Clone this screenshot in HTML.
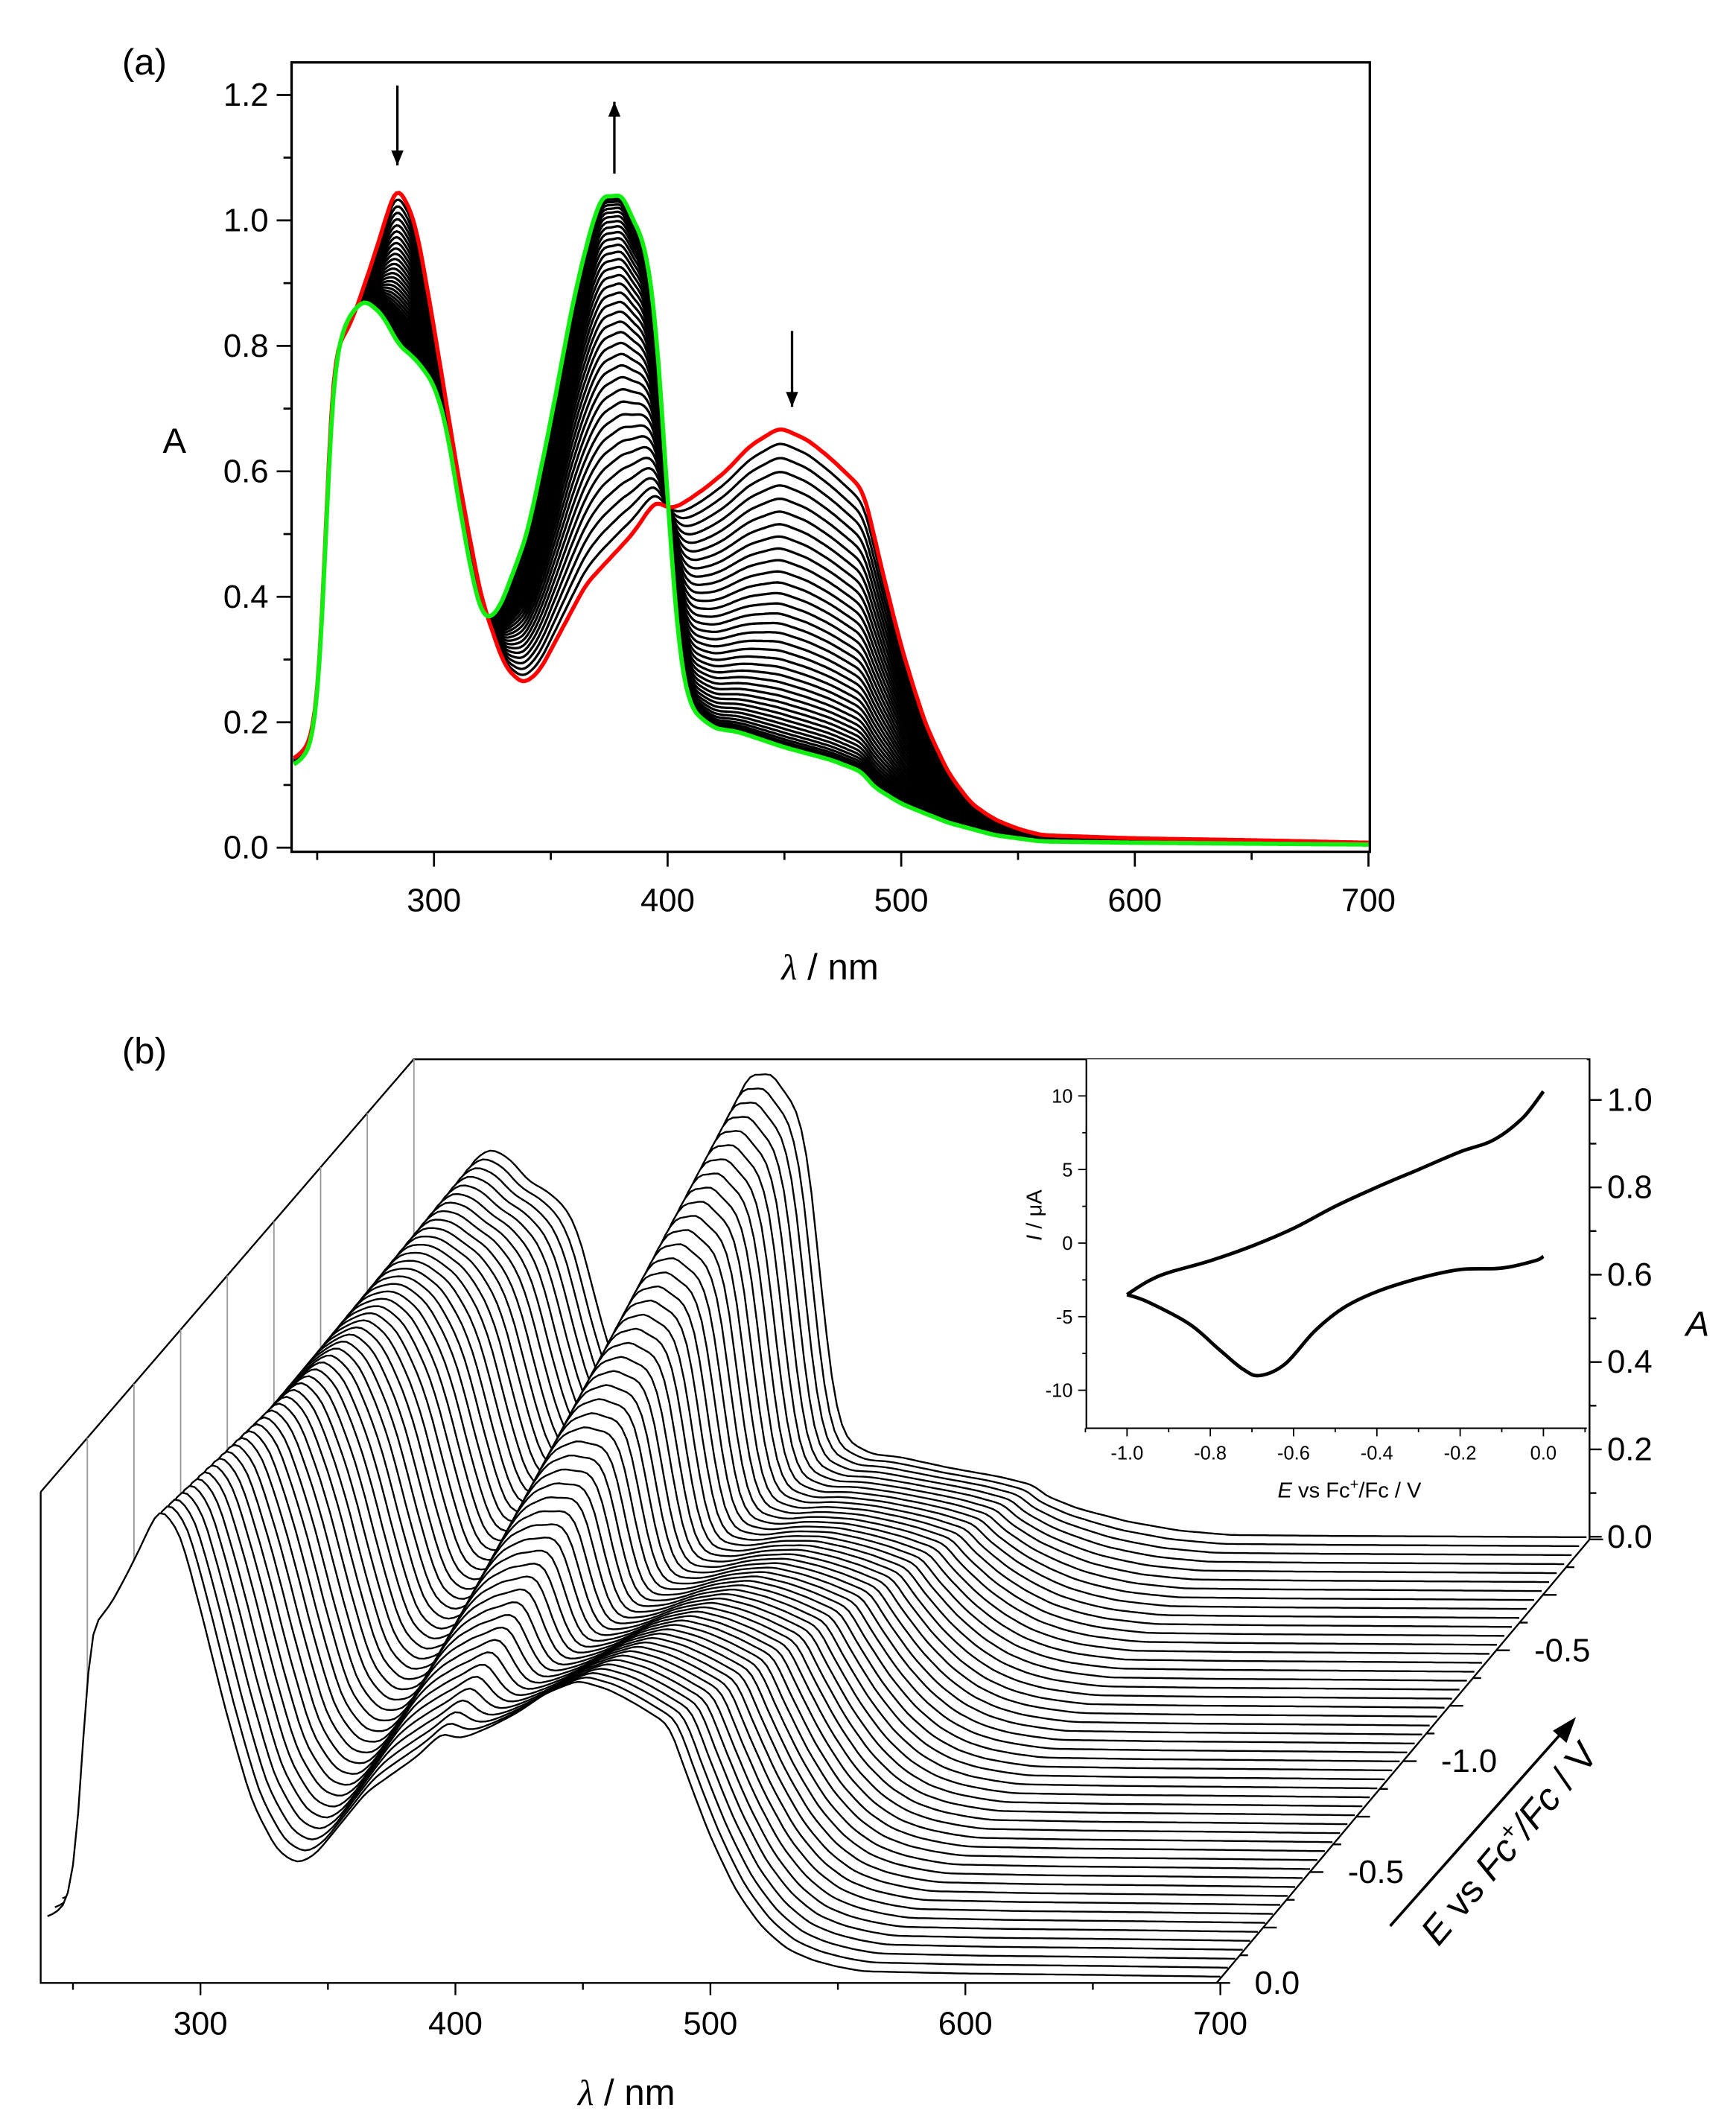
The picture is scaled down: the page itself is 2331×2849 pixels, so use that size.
<!DOCTYPE html>
<html><head><meta charset="utf-8">
<style>html,body{margin:0;padding:0;background:#fff;}svg{display:block;}
text{font-family:"Liberation Sans",sans-serif;fill:#000;}</style></head>
<body>
<svg id="s" width="2331" height="2849" viewBox="0 0 1280 1564.5" preserveAspectRatio="none" xmlns="http://www.w3.org/2000/svg">
<rect width="1280" height="1564.5" fill="#fff"/>
<g id="ga"></g>
<g id="gb"></g>
<text x="90" y="55" font-size="27">(a)</text>
<text x="90" y="784" font-size="27">(b)</text>
<text x="120" y="334" font-size="26">A</text>
<text x="612" y="722" font-size="27" text-anchor="middle"><tspan font-style="italic" font-family="Liberation Serif">λ</tspan> / nm</text>
<text x="462" y="1552" font-size="27" text-anchor="middle"><tspan font-style="italic" font-family="Liberation Serif">λ</tspan> / nm</text>
<text x="1243" y="985" font-size="26" font-style="italic">A</text>
<text x="995" y="1104" font-size="16" text-anchor="middle"><tspan font-style="italic">E</tspan> vs Fc<tspan baseline-shift="super" font-size="11">+</tspan>/Fc / V</text>
<text transform="translate(768,896) rotate(-90)" font-size="16" text-anchor="middle"><tspan font-style="italic">I</tspan> / μA</text>
<text transform="translate(1120,1365) rotate(-50)" font-size="28" text-anchor="middle"><tspan font-style="italic">E</tspan> vs <tspan font-style="italic">Fc</tspan><tspan baseline-shift="super" font-size="18">+</tspan><tspan font-style="italic">/Fc</tspan> / V</text>
</svg>
<script>
var NS="http://www.w3.org/2000/svg";
function el(p,n,a,t){var e=document.createElementNS(NS,n);for(var k in a)e.setAttribute(k,a[k]);if(t!==undefined)e.textContent=t;p.appendChild(e);return e;}
var R=[[240,.14],[248,.17],[252,.3],[256,.78],[265,.84],[275,.95],[284,1.06],[292,1.0],[300,.83],[310,.6],[320,.4],[330,.29],[338,.26],[345,.28],[355,.35],[365,.42],[375,.46],[385,.5],[395,.555],[400,.54],[405,.545],[415,.57],[425,.6],[435,.64],[448,.67],[460,.65],[470,.62],[484,.57],[490,.47],[500,.32],[510,.2],[520,.12],[530,.07],[540,.045],[550,.03],[560,.02],[600,.015],[650,.012],[700,.008]];
var G=[[240,.13],[248,.16],[252,.3],[256,.75],[262,.84],[270,.875],[278,.85],[285,.8],[292,.78],[300,.74],[305,.68],[312,.52],[318,.4],[322,.36],[328,.38],[340,.5],[350,.68],[360,.88],[368,1.0],[373,1.05],[376,1.03],[380,1.05],[385,1.0],[390,.97],[395,.85],[400,.55],[405,.3],[410,.22],[420,.19],[430,.185],[450,.16],[470,.14],[484,.12],[487,.1],[500,.07],[520,.04],[540,.02],[560,.01],[600,.008],[700,.005]];
function ip(P,x){for(var i=1;i<P.length;i++){if(x<=P[i][0]){var a=P[i-1],b=P[i];return a[1]+(b[1]-a[1])*(x-a[0])/(b[0]-a[0]);}}return P[P.length-1][1];}
function smooth(P){var raw=[],out=[];for(var l=230;l<=710;l++)raw.push(ip(P,Math.max(240,l)));for(var l=240;l<=700;l++){var i=l-230,s=0,w=0;for(var j=-5;j<=5;j++){var ww=Math.exp(-j*j/10);s+=raw[i+j]*ww;w+=ww;}out.push(s/w);}return out;}
var RS=smooth(R),GS=smooth(G);
function sp(t,l){var i=l-240;return (1-t)*RS[i]+t*GS[i];}
var ga=document.getElementById('ga'),gb=document.getElementById('gb');
function XA(l){return 216.65+(l-240)*1.7225;} function YA(a){return 625-a*462.5;}
function pa(t){var d="";for(var l=240;l<=700;l+=1){d+=(l==240?"M":"L")+XA(l).toFixed(1)+","+YA(sp(t,l)).toFixed(1);}return d;}
var N=40;
for(var i=1;i<N-1;i++){var s=i/(N-1);var t=1-Math.pow(1-s,1.8);el(ga,'path',{d:pa(t),fill:'none',stroke:'#000','stroke-width':1.8});}
el(ga,'path',{d:pa(0),fill:'none',stroke:'#f00','stroke-width':3});
el(ga,'path',{d:pa(1),fill:'none',stroke:'#1e1','stroke-width':3.2});
el(ga,'rect',{x:215,y:46,width:795,height:582,fill:'none',stroke:'#000','stroke-width':1.8});
for(var v=0;v<=12;v++){var y=YA(v/10);el(ga,'line',{x1:v%2?209:204,x2:215,y1:y,y2:y,stroke:'#000','stroke-width':1.5});if(v%2==0)el(ga,'text',{x:198,y:y+8,'font-size':24,'text-anchor':'end'},(v/10).toFixed(1));}
for(var l=250;l<=700;l+=50){var x=XA(l);el(ga,'line',{x1:x,x2:x,y1:628,y2:l%100?634:639,stroke:'#000','stroke-width':1.5});if(l%100==0)el(ga,'text',{x:x,y:672,'font-size':24,'text-anchor':'middle'},l);}
function arrow(g,x,y1,y2){el(g,'line',{x1:x,x2:x,y1:y1,y2:y2,stroke:'#000','stroke-width':1.8});var dir=y2>y1?1:-1;el(g,'path',{d:"M"+(x-4.5)+","+(y2-11*dir)+"L"+x+","+y2+"L"+(x+4.5)+","+(y2-11*dir)+"Z",fill:'#000'});}
arrow(ga,293,63,122);arrow(ga,453,128,75);arrow(ga,584,244,300);
var M=50,dx=270/(M-1),dy=-325/(M-1);
el(gb,'path',{d:"M30,1100L305,781L1172,781L1172,1135",fill:'none',stroke:'#000','stroke-width':1.3});
for(var j=1;j<=8;j++){var x=30+j*34.4;var yt=1100-(x-30)*319/275;el(gb,'line',{x1:x,x2:x,y1:yt,y2:1400,stroke:'#999','stroke-width':1});}
function XB(l,k){return 35+(l-240)*1.88+k*dx;} function YB(a,k){return 1460-a*330+k*dy;}
for(var k=M-1;k>=0;k--){var t=k/(M-1);var d="";for(var l=240;l<=700;l+=2){d+=(l==240?"M":"L")+XB(l,k).toFixed(1)+","+YB(sp(t,l),k).toFixed(1);}
var df=d+"L"+XB(700,k).toFixed(1)+","+(YB(0,k)+2).toFixed(1)+"L"+XB(240,k).toFixed(1)+","+(YB(0,k)+2).toFixed(1)+"Z";
el(gb,'path',{d:df,fill:'#fff',stroke:'none'});el(gb,'path',{d:d,fill:'none',stroke:'#000','stroke-width':1.3});}
el(gb,'path',{d:"M30,1100L30,1462L897,1462L1172,1135",fill:'none',stroke:'#000','stroke-width':1.3});
for(var l=250;l<=700;l+=50){var x=35+(l-240)*1.88;el(gb,'line',{x1:x,x2:x,y1:1462,y2:l%100?1467:1471,stroke:'#000','stroke-width':1.3});if(l%100==0)el(gb,'text',{x:x,y:1500,'font-size':24,'text-anchor':'middle'},l);}
for(var v=0;v<=10;v++){var y=1133-v*32.2;el(gb,'line',{x1:1172,x2:v%2?1177:1181,y1:y,y2:y,stroke:'#000','stroke-width':1.3});if(v%2==0)el(gb,'text',{x:1185,y:y+8,'font-size':24},(v/10).toFixed(1));}
for(var j=0;j<=16;j++){var x=897+j*275/16,y=1462-j*327/16;el(gb,'line',{x1:x,x2:x+(j%2?6:10),y1:y,y2:y,stroke:'#000','stroke-width':1.3});}
var dl=[["0.0",0],["-0.5",4],["-1.0",8],["-0.5",12]];
dl.forEach(function(p){var x=897+p[1]*275/16,y=1462-p[1]*327/16;el(gb,'text',{x:x+28,y:y+8,'font-size':24},p[0]);});
el(gb,'line',{x1:1025,y1:1420,x2:1152,y2:1277,stroke:'#000','stroke-width':2});
el(gb,'path',{d:"M1162,1266L1145,1276L1155,1285Z",fill:'#000'});
el(gb,'rect',{x:801,y:781,width:369,height:272,fill:'#fff',stroke:'none'});
el(gb,'path',{d:"M801,781L801,1053L1170,1053",fill:'none',stroke:'#000','stroke-width':1.2});
function XI(e){return 831+(e+1)*307;} function YI(i){return 916.5-i*10.85;}
for(var v=-10;v<=10;v+=2.5){var y=YI(v);var maj=(v%5==0);el(gb,'line',{x1:maj?795:798,x2:801,y1:y,y2:y,stroke:'#000','stroke-width':1});if(maj)el(gb,'text',{x:791,y:y+5,'font-size':14,'text-anchor':'end'},v);}
for(var e=-1.1;e<=0.101;e+=0.1){var x=XI(e);var m=Math.round(e*10);el(gb,'line',{x1:x,x2:x,y1:1053,y2:m%2?1056:1059,stroke:'#000','stroke-width':1});if(m%2==0&&m>=-10)el(gb,'text',{x:x,y:1076,'font-size':14,'text-anchor':'middle'},(m/10).toFixed(1));}
var U=[[-1,-3.5],[-.95,-2.6],[-.9,-2.0],[-.8,-1.2],[-.7,-.2],[-.6,1.0],[-.5,2.5],[-.4,3.8],[-.3,5.0],[-.2,6.2],[-.12,7.0],[-.05,8.5],[0,10.3]];
var L=[[-1,-3.5],[-.95,-4.0],[-.85,-5.5],[-.78,-7.2],[-.72,-8.6],[-.68,-9.0],[-.62,-8.2],[-.55,-6.0],[-.48,-4.4],[-.4,-3.3],[-.3,-2.4],[-.2,-1.8],[-.1,-1.7],[-.02,-1.2],[0,-.9]];
function cr(P){var d="M"+XI(P[0][0]).toFixed(1)+","+YI(P[0][1]).toFixed(1);for(var i=0;i<P.length-1;i++){var p0=P[Math.max(0,i-1)],p1=P[i],p2=P[i+1],p3=P[Math.min(P.length-1,i+2)];
var c1=[p1[0]+(p2[0]-p0[0])/6,p1[1]+(p2[1]-p0[1])/6],c2=[p2[0]-(p3[0]-p1[0])/6,p2[1]-(p3[1]-p1[1])/6];
d+="C"+XI(c1[0]).toFixed(1)+","+YI(c1[1]).toFixed(1)+" "+XI(c2[0]).toFixed(1)+","+YI(c2[1]).toFixed(1)+" "+XI(p2[0]).toFixed(1)+","+YI(p2[1]).toFixed(1);}return d;}
el(gb,'path',{d:cr(U)+cr(L),fill:'none',stroke:'#000','stroke-width':2.6,'stroke-linejoin':'round'});
</script>
</body></html>
